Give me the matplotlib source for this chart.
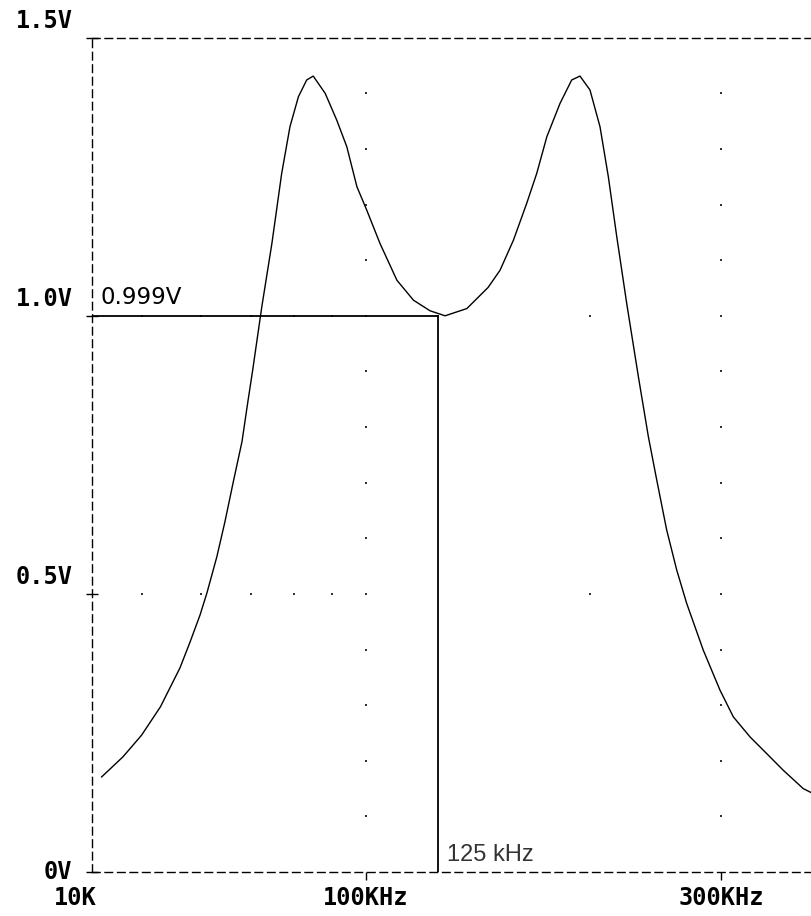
import numpy as np
import matplotlib.pyplot as plt

# AC sweep of the double-tuned stage, output magnitude (V) vs frequency (kHz)
freq_khz = [44.1, 47.1, 49.9, 52.9, 56.2, 58.0, 59.8, 61.1, 63.0, 64.6,
            66.3, 68.1, 69.3, 70.4, 72.4, 74.7, 77.0, 79.0, 81.1, 83.2,
            84.9, 88.1, 91.3, 94.2, 97.2, 100.2, 104.4, 110.0, 115.8, 121.9,
            127.7, 136.6, 145.9, 151.4, 157.8, 164.4, 169.6, 175.0, 182.3, 189.0,
            193.9, 200.0, 206.3, 211.7, 217.3, 224.1, 232.3, 239.6, 245.9, 253.6,
            261.6, 269.8, 284.0, 299.1, 311.7, 328.2, 345.6, 363.8, 387.0, 397.7]
vout = [0.171, 0.207, 0.246, 0.297, 0.367, 0.414, 0.462, 0.502, 0.567, 0.630,
        0.702, 0.774, 0.843, 0.903, 1.016, 1.130, 1.256, 1.340, 1.394, 1.424,
        1.431, 1.400, 1.352, 1.304, 1.232, 1.190, 1.130, 1.064, 1.028, 1.009,
        1.000, 1.013, 1.051, 1.082, 1.136, 1.202, 1.256, 1.322, 1.382, 1.424,
        1.431, 1.406, 1.340, 1.250, 1.142, 1.022, 0.891, 0.783, 0.705, 0.615,
        0.543, 0.483, 0.399, 0.327, 0.279, 0.243, 0.213, 0.183, 0.150, 0.142]

# cursor readout
cursor_f = 125.0
cursor_v = 0.999

# axis range and labels
f_min, f_max = 42.8, 397.7
v_ticks = [0.0, 0.5, 1.0, 1.5]
v_labels = ['0V', '0.5V', '1.0V', '1.5V']
f_ticks = [100, 300]
f_labels = ['100KHz', '300KHz']
f_start_label = '10K'

# dotted grid
grid_row_f = [50, 60, 70, 80, 90, 100, 200, 300]
grid_row_v = [0.5, 1.0]
grid_col_f = [100, 300]
grid_col_v = [0.1, 0.2, 0.3, 0.4, 0.6, 0.7, 0.8, 0.9, 1.1, 1.2, 1.3, 1.4]

W, H = 812, 916
fig = plt.figure(figsize=(W / 100, H / 100), dpi=100)
ax = fig.add_axes([92 / W, 44 / H, 1 - 92 / W, (872 - 37.7) / H])
ax.set_xscale('log')
ax.set_xlim(f_min, f_max)
ax.set_ylim(0, 1.5)

dash = (0, (5.5, 3.5))
for side in ['left', 'top', 'bottom']:
    ax.spines[side].set_linestyle(dash)
    ax.spines[side].set_linewidth(1.0)
    ax.spines[side].set_color('black')
ax.spines['right'].set_visible(False)

# grid dots
gx = [f for v in grid_row_v for f in grid_row_f] + [f for f in grid_col_f for v in grid_col_v]
gy = [v for v in grid_row_v for f in grid_row_f] + [v for f in grid_col_f for v in grid_col_v]
ax.scatter(gx, gy, s=1.2, marker='s', color='#333333', linewidths=0, zorder=1)

ax.plot(freq_khz, vout, color='black', lw=1.0, zorder=3)

# cursor cross-hair
ax.plot([f_min, cursor_f], [cursor_v, cursor_v], color='black', lw=1.3, zorder=4)
ax.plot([cursor_f, cursor_f], [0, cursor_v], color='black', lw=1.3, zorder=4)

ax.annotate(f'{cursor_v:.3f}V', xy=(f_min, cursor_v), xytext=(6, 5), textcoords='offset points',
            fontsize=16.5, family='DejaVu Sans', ha='left', va='bottom', color='black')
ax.annotate(f'{cursor_f:.0f} kHz', xy=(cursor_f, 0), xytext=(6, 4), textcoords='offset points',
            fontsize=17, family='Liberation Sans', ha='left', va='bottom', color='#333333')

# axis ticks
ax.set_yticks(v_ticks)
ax.set_yticklabels([])
ax.tick_params(axis='y', direction='inout', length=9, width=1.0, color='black')
ax.set_xticks(f_ticks)
ax.set_xticklabels([])
ax.xaxis.set_minor_locator(plt.NullLocator())
ax.tick_params(axis='x', direction='out', length=6, width=1.0, color='black')

lab = dict(fontsize=17, family='DejaVu Sans Mono', fontweight='bold', color='black')
for v, s in zip(v_ticks, v_labels):
    dy = 0 if v == 0 else 12
    ax.annotate(s, xy=(0, v), xycoords=('axes fraction', 'data'), xytext=(-14, dy),
                textcoords='offset points', ha='right', va='center', **lab)
for f, s in zip(f_ticks, f_labels):
    ax.annotate(s, xy=(f, 0), xytext=(0, -19), textcoords='offset points',
                ha='center', va='center', **lab)
ax.annotate(f_start_label, xy=(f_min, 0), xytext=(-12, -19), textcoords='offset points',
            ha='center', va='center', **lab)

fig.savefig('out.png', dpi=100)
